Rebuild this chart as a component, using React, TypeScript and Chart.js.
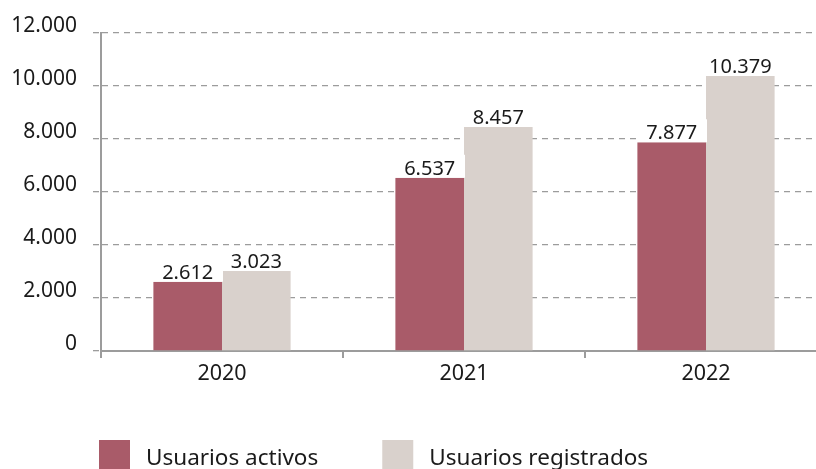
import React, { useEffect, useRef } from 'react';
import { Chart, registerables } from 'chart.js';

Chart.register(...registerables);

const years = ['2020', '2021', '2022'];
const activos = [2612, 6537, 7877];
const registrados = [3023, 8457, 10379];
const seriesNames = ['Usuarios activos', 'Usuarios registrados'];
const seriesColors = ['#a95b69', '#d9d1cc'];
const yMin = 0;
const yMax = 12000;
const yStep = 2000;

const FONT = '"Noto Sans", "Open Sans", sans-serif';
const TEXT = '#1a1a1a';
const GRID = '#9c9c9c';

const fmt = (v: number) => String(v).replace(/\B(?=(\d{3})+(?!\d))/g, '.');

const labelPlugin = {
  id: 'barLabels',
  afterDatasetsDraw(chart: any) {
    const ctx = chart.ctx;
    ctx.save();
    ctx.font = `20px ${FONT}`;
    chart.data.datasets.forEach((ds: any, i: number) => {
      const meta = chart.getDatasetMeta(i);
      meta.data.forEach((bar: any, j: number) => {
        const { x, y, width } = bar.getProps(['x', 'y', 'width'], true);
        ctx.fillStyle = '#ffffff';
        ctx.fillRect(x - width / 2 - 1, y - 23, width + 2, 23);
        ctx.fillStyle = TEXT;
        ctx.textAlign = 'center';
        ctx.textBaseline = 'alphabetic';
        ctx.fillText(fmt(ds.data[j]), x, y - 3);
      });
    });
    ctx.restore();
  },
};

const legendPlugin = {
  id: 'customLegend',
  afterDraw(chart: any) {
    const ctx = chart.ctx;
    const area = chart.chartArea;
    ctx.save();
    ctx.font = `22.5px ${FONT}`;
    ctx.textBaseline = 'alphabetic';
    ctx.textAlign = 'left';
    let x = area.left - 2;
    const boxTop = 440;
    chart.data.datasets.forEach((ds: any) => {
      ctx.fillStyle = ds.backgroundColor;
      ctx.fillRect(x, boxTop, 31, 32);
      ctx.fillStyle = TEXT;
      const tx = x + 47;
      ctx.fillText(ds.label, tx, 465);
      x = tx + ctx.measureText(ds.label).width + 64;
    });
    ctx.restore();
  },
};

export default function App() {
  const ref = useRef<HTMLCanvasElement | null>(null);

  useEffect(() => {
    if (!ref.current) return;
    const chart = new Chart(ref.current, {
      type: 'bar',
      data: {
        labels: years,
        datasets: [
          { label: seriesNames[0], data: activos, backgroundColor: seriesColors[0], borderWidth: 0 },
          { label: seriesNames[1], data: registrados, backgroundColor: seriesColors[1], borderWidth: 0 },
        ],
      },
      options: {
        responsive: false,
        animation: false,
        devicePixelRatio: 1,
        layout: { padding: { left: 0, right: 13, top: 33, bottom: 109 } },
        datasets: { bar: { categoryPercentage: 0.567, barPercentage: 1 } },
        plugins: {
          legend: { display: false },
          tooltip: { enabled: false },
        },
        scales: {
          x: {
            offset: true,
            grid: {
              display: true,
              drawOnChartArea: false,
              drawTicks: true,
              tickLength: 7,
              color: GRID,
              lineWidth: 2,
              offset: true,
            },
            border: { display: true, color: GRID, width: 2 },
            ticks: { color: TEXT, font: { family: FONT, size: 21.5 }, padding: 3 },
            afterFit: (s: any) => { s.height = 40; },
          },
          y: {
            min: yMin,
            max: yMax,
            ticks: {
              stepSize: yStep,
              color: TEXT,
              font: { family: FONT, size: 21 },
              padding: 16,
              labelOffset: -7,
              callback: (v: any) => fmt(Number(v)),
            },
            grid: {
              color: GRID,
              lineWidth: 1.3,
              tickLength: 8,
              tickBorderDash: [6, 5],
            },
            border: { display: true, color: GRID, width: 2, dash: [6, 5] },
            afterFit: (s: any) => { s.width = 101; },
          },
        },
      },
      plugins: [labelPlugin, legendPlugin],
    } as any);
    return () => chart.destroy();
  }, []);

  return (
    <div style={{ position: 'fixed', left: 0, top: 0, width: 816, height: 469, overflow: 'hidden', background: '#fff' }}>
      <canvas ref={ref} width={840} height={500} style={{ display: 'block' }} />
    </div>
  );
}
